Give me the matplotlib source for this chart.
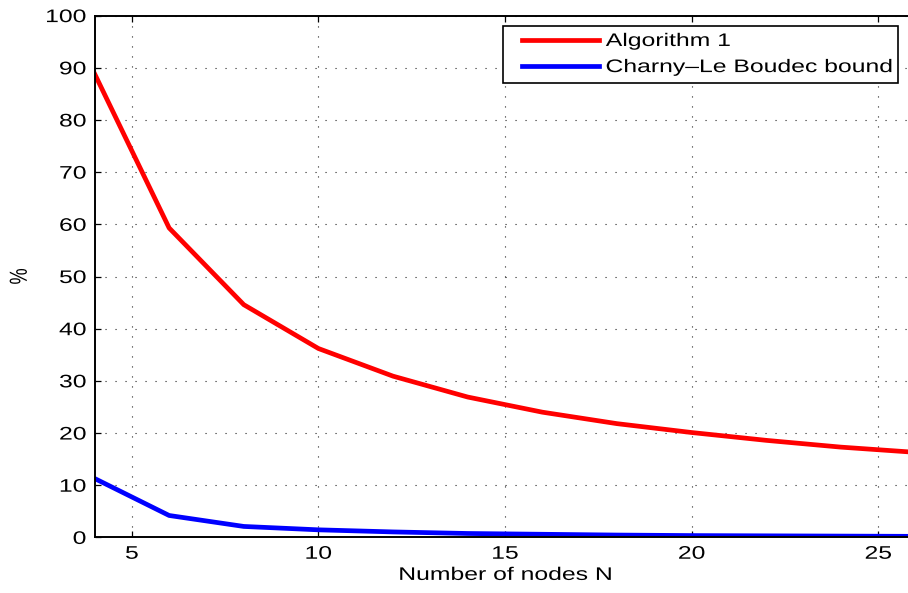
import matplotlib
matplotlib.use("Agg")
import matplotlib.pyplot as plt
from matplotlib import patheffects as pe
from matplotlib.transforms import Affine2D
from matplotlib.lines import Line2D
from matplotlib.legend_handler import HandlerLine2D

plt.rcParams['font.family'] = ['Liberation Sans', 'DejaVu Sans']

nodes = [4, 6, 8, 10, 12, 14, 16, 18, 20, 22, 24, 26]
algorithm1 = [88.9, 59.3, 44.6, 36.2, 30.9, 26.9, 24.0, 21.8, 20.1, 18.6, 17.3, 16.3]
charny = [11.3, 4.2, 2.1, 1.45, 1.05, 0.75, 0.6, 0.45, 0.35, 0.3, 0.25, 0.2]
xticks = [5, 10, 15, 20, 25]
yticks = [0, 10, 20, 30, 40, 50, 60, 70, 80, 90, 100]


class Stretch(pe.AbstractPathEffect):
    """Stretch glyphs (reference image is horizontally stretched)."""
    def __init__(self, sx=1.0, sy=1.0, anchor=0.0):
        super().__init__()
        self.sx, self.sy, self.anchor = sx, sy, anchor

    def draw_path(self, renderer, gc, tpath, affine, rgbFace=None):
        ext = tpath.get_extents()
        x0 = ext.x0 + self.anchor * ext.width
        t = Affine2D().translate(-x0, 0).scale(self.sx, self.sy).translate(x0, 0) + affine
        renderer.draw_path(gc, tpath, t, rgbFace)


SX = 1.36
FS = 13.1

W, H = 908, 593
fig = plt.figure(figsize=(W/100, H/100), dpi=100)
left, right, top, bottom = 94.5, 915.5, 15.6, 537.4
ax = fig.add_axes([left/W, 1 - bottom/H, (right-left)/W, (bottom-top)/H])

ax.plot(nodes, algorithm1, color='#ff0000', lw=3.4, label='Algorithm 1', solid_joinstyle='round')
ax.plot(nodes, charny, color='#0000ff', lw=3.4, label='Charny\u2013Le Boudec bound', solid_joinstyle='round')

ax.set_xlim(4, 26)
ax.set_ylim(0, 100)
ax.set_xticks(xticks)
ax.set_yticks(yticks)
ax.tick_params(direction='in', length=4.5, labelsize=FS, width=0.9, top=True, right=True, pad=6)
ax.grid(True, linestyle=(0, (1, 8)), color='#222222', lw=0.8)
for s in ax.spines.values():
    s.set_linewidth(1.4)
ax.set_xlabel('Number of nodes N', fontsize=FS, labelpad=3)
ax.set_ylabel('%', fontsize=FS, labelpad=18)

# legend box spans fixed pixel extents
lx0, lx1, ly0, ly1 = 503, 898, 25.7, 81.7
bb = ((lx0-left)/(right-left), 1-(ly1-top)/(bottom-top),
      (lx1-lx0)/(right-left), (ly1-ly0)/(bottom-top))
leg = ax.legend(loc='upper left', bbox_to_anchor=bb, mode='expand',
                fontsize=FS, frameon=True, fancybox=False, edgecolor='black',
                framealpha=1.0, facecolor='white',
                handlelength=5.5, handletextpad=-0.25, borderaxespad=0,
                labelspacing=0.5, borderpad=0.4,
                handler_map={Line2D: HandlerLine2D(numpoints=2, marker_pad=0.62)})
leg.get_frame().set_linewidth(1.2)

for t in leg.get_texts():
    t.set_path_effects([Stretch(SX, 1, 0.0)])
for tk in ax.xaxis.get_major_ticks():
    tk.label1.set_path_effects([Stretch(SX, 1, 0.5)])
for tk in ax.yaxis.get_major_ticks():
    tk.label1.set_path_effects([Stretch(SX, 1, 1.0)])
ax.xaxis.label.set_path_effects([Stretch(SX, 1, 0.5)])
ax.yaxis.label.set_path_effects([Stretch(1, SX, 0.5)])

fig.savefig('out.png', dpi=100)
